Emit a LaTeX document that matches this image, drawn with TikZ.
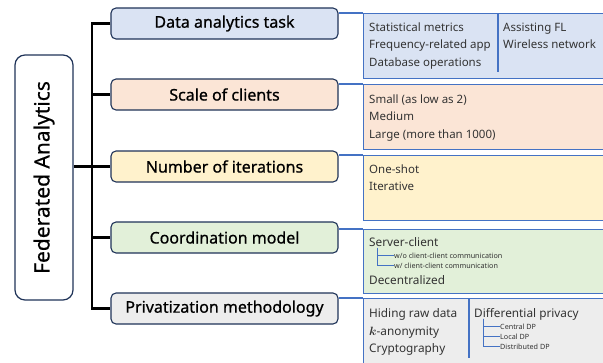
\documentclass[tikz,border=0pt]{standalone}
\usepackage{fontspec}
\setmainfont{Noto Sans}
\newfontfamily\catfont[FakeBold=0.7]{Noto Sans}
\newfontfamily\rootfont[FakeBold=0.4]{Noto Sans}
\usetikzlibrary{positioning}
\definecolor{navy}{HTML}{1F3358}
\definecolor{linkblue}{HTML}{4472C4}
\definecolor{taskfill}{HTML}{DAE3F3}
\definecolor{scalefill}{HTML}{FBE5D6}
\definecolor{iterfill}{HTML}{FFF2CC}
\definecolor{coordfill}{HTML}{E2F0D9}
\definecolor{privfill}{HTML}{EDEDED}
\tikzset{
  rootnode/.style={draw=navy, line width=1.2pt, rounded corners=10pt, fill=white, minimum width=58pt, minimum height=245pt, inner sep=0pt},
  catnode/.style={draw=navy, line width=1.1pt, rounded corners=5pt, minimum width=227pt, minimum height=31pt, inner sep=0pt, font=\catfont\fontsize{16}{19}\selectfont},
  detailnode/.style={draw=linkblue, line width=1.1pt, anchor=north west, minimum width=260pt, inner sep=0pt},
  item/.style={anchor=base west, inner sep=0pt, font=\fontsize{11.5}{14}\selectfont, text=black!80},
  bigitem/.style={item, font=\fontsize{11.8}{14}\selectfont},
  subitem/.style={anchor=base west, inner sep=0pt, font=\fontsize{7.2}{9}\selectfont, text=black!80},
  trunk/.style={line width=2.6pt},
  bluelink/.style={draw=linkblue, line width=1.1pt},
  treeline/.style={draw=linkblue, line width=0.7pt}
}

\begin{document}
\begin{tikzpicture}[x=1pt, y=-1pt]
\clip (0,0) rectangle (603,362);

% Root and categories
\node[rootnode] (root) at (44,177.5) {};
\node[rotate=90, font=\rootfont\fontsize{21}{24}\selectfont] (roottext) at (root.center) {Federated Analytics};
\node[catnode, fill=taskfill] (cat1) at (224.5,23.5) {Data analytics task};
\node[catnode, fill=scalefill] (cat2) at (224.5,94.5) {Scale of clients};
\node[catnode, fill=iterfill] (cat3) at (224.5,166.5) {Number of iterations};
\node[catnode, fill=coordfill] (cat4) at (224.5,237.5) {Coordination model};
\node[catnode, fill=privfill] (cat5) at (224.5,308.5) {Privatization methodology};

% Tree
\coordinate (tbot) at (92,308.5);
\draw[trunk] (cat1.west) -| (tbot) -- (cat5.west);
\foreach \c in {cat2,cat3,cat4}
  \draw[trunk] (tbot |- \c.west) -- (\c.west);
\draw[trunk] (root.east |- cat3.west) -- (tbot |- cat3.west);

% Detail boxes
\node[detailnode, fill=taskfill, minimum height=65pt] (det1) at (363,13) {};
\node[detailnode, fill=scalefill, minimum height=65pt] (det2) at (363,84) {};
\node[detailnode, fill=iterfill, minimum height=65pt] (det3) at (363,155) {};
\node[detailnode, fill=coordfill, minimum height=64pt] (det4) at (363,229) {};
\node[detailnode, fill=privfill, minimum height=75pt] (det5) at (363,298) {};
\foreach \i in {1,...,5}
  \draw[bluelink] (cat\i.east |- det\i.north west) -- (det\i.north west);

% Data analytics task
\draw[bluelink] (498,13) -- (498,72);
\foreach \txt [count=\i] in {Statistical metrics, Frequency-related app, Database operations}
  \node[item] (task\i) at (369,13.5+17.5*\i) {\txt};
\foreach \txt [count=\i] in {Assisting FL, Wireless network}
  \node[item] (fl\i) at (503,13.5+17.5*\i) {\txt};

% Scale of clients
\foreach \txt [count=\i] in {Small (as low as 2), Medium, Large (more than 1000)}
  \node[item] (scale\i) at (369,85.5+17.5*\i) {\txt};

% Number of iterations
\foreach \txt [count=\i] in {One-shot, Iterative}
  \node[item] (iter\i) at (369,155.5+17.5*\i) {\txt};

% Coordination model
\node[bigitem] (srvc) at (369,246) {Server-client};
\node[subitem] (wo) at (394,258.5) {w/o client-client communication};
\node[subitem] (wc) at (394,268.5) {w/ client-client communication};
\node[bigitem] (dec) at (369,284.5) {Decentralized};
\coordinate (t4) at (377,247.5);
\draw[treeline] (t4) |- (wo.west);
\draw[treeline] (t4) |- (wc.west);

% Privatization methodology
\draw[bluelink] (469,298) -- (469,358);
\node[bigitem] (hide) at (369,317) {Hiding raw data};
\node[bigitem] (kano) at (369,335) {{\boldmath$k$}-anonymity};
\node[bigitem] (crypt) at (369,352) {Cryptography};
\node[bigitem] (dp) at (474,317) {Differential privacy};
\foreach \txt [count=\i] in {Central DP, Local DP, Distributed DP}
  \node[subitem] (dp\i) at (500,319.5+10*\i) {\txt};
\coordinate (t5) at (483,318.5);
\foreach \i in {1,2,3}
  \draw[treeline] (t5) |- (dp\i.west);

\end{tikzpicture}
\end{document}
